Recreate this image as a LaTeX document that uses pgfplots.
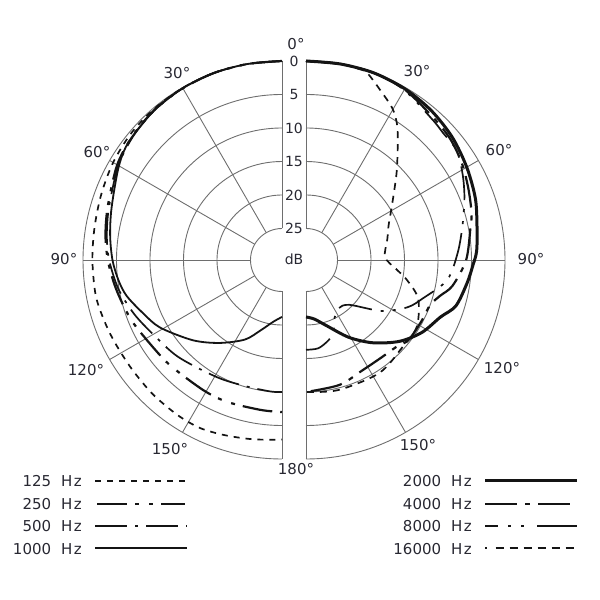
\documentclass[border=0pt]{standalone}
\usepackage{fontspec}
\setmainfont{DejaVu Sans}
\usepackage{pgfplots}
\usepackage{pgfplotstable}
\pgfplotsset{compat=1.18}

\definecolor{gridc}{RGB}{110,110,110}
\definecolor{txt}{RGB}{40,40,50}
\definecolor{ink}{RGB}{20,20,20}

% polar data: angle (deg from front) and attenuation (dB)
% left half: low frequencies
\pgfplotstableread{
ang db
0 0
10 0
20 0
30 0.05
40 0.15
50 0.3
60 0.6
70 1.0
80 1.3
90 1.4
101 1.4
110 1.7
117 1.9
126 2.0
136 1.9
146 1.8
154 1.8
162 2.2
171 2.6
180 2.9
}\fA
\pgfplotstableread{
ang db
0 0
10 0
20 0
30 0.1
40 0.3
50 0.7
60 1.3
73 2.5
82 3.1
90 3.7
98 4.4
105 5.0
113 5.6
125 6.5
134 6.8
149 7.0
159 7.0
172 7.1
180 7.0
}\fB
\pgfplotstableread{
ang db
0 0
10 0
20 0
30 0.1
40 0.35
50 0.8
60 1.5
73 2.7
82 3.3
90 3.9
100 4.9
110 6.2
120 7.5
133 8.5
151 9.7
164 10.1
175 10.0
180 10.0
}\fC
\pgfplotstableread{
ang db
0 0
10 0
20 0
30 0.1
40 0.3
52 0.8
60 1.6
73 3.1
82 3.8
90 4.4
97 5.1
103 5.9
111 7.5
119 8.9
132 11.8
143 14.2
155 16.6
163 18.7
172 20.4
180 21.2
}\fD
% right half: high frequencies
\pgfplotstableread{
ang db
0 0
10 0
20 0
30 0.2
40 0.6
50 1.2
60 2.0
70 2.8
79 3.7
87 4.2
92 4.8
98 5.4
107 6.3
113 7.9
122 9.3
131 11.2
141 13.8
151 16.5
163 19.5
172 20.8
180 21.2
}\fE
\pgfplotstableread{
ang db
0 0
10 0
20 0
30 0.3
42 1.2
50 1.6
58 2.3
66 3.2
74 4.0
79 4.7
90 5.8
100 7.5
105 9.0
110 10.0
118 10.2
128 10.3
134 11.0
142 11.3
153 11.2
165 10.4
180 10.0
}\fF
\pgfplotstableread{
ang db
0 0
10 0
20 0
30 0.4
42 1.5
47 1.8
54 1.9
61 3.0
68 4.2
77 5.7
87 7.0
98 8.4
108 11.3
115 13.0
124 16.1
136 20.4
146 21.0
155 19.8
159 18.2
164 17.3
172 16.4
180 16.3
}\fG
\pgfplotstableread{
ang db
0 0
10 0
15 0.1
18 0.3
23.5 2.0
29.5 3.6
33.6 5.2
37.5 7.2
46 10.9
58 14.6
67 16.3
76 17.2
88 17.9
96 16.1
101 14.4
109 12.0
121 10.4
132 10.3
147 9.6
166 9.7
180 10.0
}\fH

\tikzset{
  s125/.style={ink, line width=1.7pt, dash pattern=on 6pt off 6pt},
  s250/.style={ink, line width=2.2pt, dash pattern=on 30pt off 8pt on 4pt off 10pt on 4pt off 8pt},
  s500/.style={ink, line width=1.7pt, dash pattern=on 32pt off 8pt on 3pt off 8pt},
  s1000/.style={ink, line width=1.8pt},
  s2000/.style={ink, line width=3pt},
  s4000/.style={ink, line width=2.2pt, dash pattern=on 32pt off 8pt on 5pt off 8pt},
  s8000/.style={ink, line width=1.7pt, dash pattern=on 34pt off 9pt on 3pt off 9pt on 3pt off 9pt},
  s16000/.style={ink, line width=1.7pt, dash pattern=on 7pt off 6pt},
  lab/.style={txt, font=\fontsize{15}{18}\selectfont, inner sep=0pt},
  num/.style={txt, font=\fontsize{14}{17}\selectfont, inner sep=0pt},
}
\newcommand{\hz}{\hspace{10pt}H\hspace{1.5pt}z}

\begin{document}
\begin{tikzpicture}
\begin{axis}[
  width=600pt, height=600pt, scale only axis,
  xmin=0, xmax=600, ymin=0, ymax=600, y dir=reverse,
  hide axis, clip=false, set layers,
]
\path (axis cs:0,0) rectangle (axis cs:600,600);

\begin{pgfonlayer}{axis background}
% rings every 5 dB
\pgfplotsinvokeforeach{0,5,10,15,20,25}{
  \draw[gridc, line width=0.9pt] (axis cs:282,{260-(199-6.7*#1)}) arc[start angle=90, end angle=270, radius={(199-6.7*#1)*1pt}];
  \draw[gridc, line width=0.9pt] (axis cs:306,{260-(199-6.7*#1)}) arc[start angle=90, end angle=-90, radius={(199-6.7*#1)*1pt}];
}
% spokes
\pgfplotsinvokeforeach{30,60,90,120,150}{
  \begin{scope}[shift={(axis cs:282,260)}]
    \draw[gridc, line width=0.9pt] (90+#1:31.5pt) -- (90+#1:199pt);
  \end{scope}
  \begin{scope}[shift={(axis cs:306,260)}]
    \draw[gridc, line width=0.9pt] (90-#1:31.5pt) -- (90-#1:199pt);
  \end{scope}
}
\draw[gridc, line width=0.9pt] (axis cs:282,61) -- (axis cs:282,228.5) (axis cs:282,291.5) -- (axis cs:282,459);
\draw[gridc, line width=0.9pt] (axis cs:306,61) -- (axis cs:306,228.5) (axis cs:306,291.5) -- (axis cs:306,459);
\end{pgfonlayer}

% left half
\addplot[s125, smooth, tension=0.5] table[x expr={282-(199-6.7*\thisrow{db})*sin(\thisrow{ang})}, y expr={260-(199-6.7*\thisrow{db})*cos(\thisrow{ang})}] {\fA};
\addplot[s250, smooth, tension=0.5] table[x expr={282-(199-6.7*\thisrow{db})*sin(\thisrow{ang})}, y expr={260-(199-6.7*\thisrow{db})*cos(\thisrow{ang})}] {\fB};
\addplot[s500, smooth, tension=0.5] table[x expr={282-(199-6.7*\thisrow{db})*sin(\thisrow{ang})}, y expr={260-(199-6.7*\thisrow{db})*cos(\thisrow{ang})}] {\fC};
\addplot[s1000, smooth, tension=0.5] table[x expr={282-(199-6.7*\thisrow{db})*sin(\thisrow{ang})}, y expr={260-(199-6.7*\thisrow{db})*cos(\thisrow{ang})}] {\fD};
% right half
\addplot[s2000, smooth, tension=0.5] table[x expr={306+(199-6.7*\thisrow{db})*sin(\thisrow{ang})}, y expr={260-(199-6.7*\thisrow{db})*cos(\thisrow{ang})}] {\fE};
\addplot[s4000, smooth, tension=0.5] table[x expr={306+(199-6.7*\thisrow{db})*sin(\thisrow{ang})}, y expr={260-(199-6.7*\thisrow{db})*cos(\thisrow{ang})}] {\fF};
\addplot[s8000, smooth, tension=0.5] table[x expr={306+(199-6.7*\thisrow{db})*sin(\thisrow{ang})}, y expr={260-(199-6.7*\thisrow{db})*cos(\thisrow{ang})}] {\fG};
\addplot[s16000, smooth, tension=0.5] table[x expr={306+(199-6.7*\thisrow{db})*sin(\thisrow{ang})}, y expr={260-(199-6.7*\thisrow{db})*cos(\thisrow{ang})}] {\fH};

% scale labels
\node[num] at (axis cs:294,61) {0};
\node[num] at (axis cs:294,94.5) {5};
\node[num] at (axis cs:294,128) {10};
\node[num] at (axis cs:294,161.5) {15};
\node[num] at (axis cs:294,195) {20};
\node[num] at (axis cs:294,228.5) {25};
\node[num] at (axis cs:294,259) {dB};
% angle labels
\node[lab] at (axis cs:296,44) {0°};
\node[lab] at (axis cs:296,469) {180°};
\node[lab] at (axis cs:177,73) {30°};
\node[lab] at (axis cs:97,152) {60°};
\node[lab] at (axis cs:64,259) {90°};
\node[lab] at (axis cs:86,370) {120°};
\node[lab] at (axis cs:170,449) {150°};
\node[lab] at (axis cs:417,71) {30°};
\node[lab] at (axis cs:499,150) {60°};
\node[lab] at (axis cs:531,259) {90°};
\node[lab] at (axis cs:502,368) {120°};
\node[lab] at (axis cs:418,445) {150°};

% legend
\node[lab, anchor=east] at (axis cs:82,481) {125\hz};
\node[lab, anchor=east] at (axis cs:82,504) {250\hz};
\node[lab, anchor=east] at (axis cs:82,526) {500\hz};
\node[lab, anchor=east] at (axis cs:82,549) {1000\hz};
\draw[s125] (axis cs:95,481) -- (axis cs:187,481);
\draw[s250] (axis cs:97,504) -- (axis cs:185,504);
\draw[s500] (axis cs:95,526) -- (axis cs:187,526);
\draw[s1000] (axis cs:95,548) -- (axis cs:187,548);

\node[lab, anchor=east] at (axis cs:472,481) {2000\hz};
\node[lab, anchor=east] at (axis cs:472,504) {4000\hz};
\node[lab, anchor=east] at (axis cs:472,526) {8000\hz};
\node[lab, anchor=east] at (axis cs:472,549) {16000\hz};
\draw[s2000] (axis cs:485,481) -- (axis cs:577,481);
\draw[s4000] (axis cs:485,504) -- (axis cs:577,504);
\draw[ink, line width=1.7pt, dash pattern=on 13pt off 10pt on 3pt off 10pt on 3pt off 13pt on 40pt off 10pt] (axis cs:485,526) -- (axis cs:577,526);
\draw[ink, line width=1.7pt, dash pattern=on 1.5pt off 9pt on 8pt off 6pt on 8pt off 6pt on 8pt off 6pt on 8pt off 6pt on 8pt off 6pt on 8pt off 6pt on 8pt off 6pt] (axis cs:485,548) -- (axis cs:577,548);
\end{axis}
\end{tikzpicture}
\end{document}
